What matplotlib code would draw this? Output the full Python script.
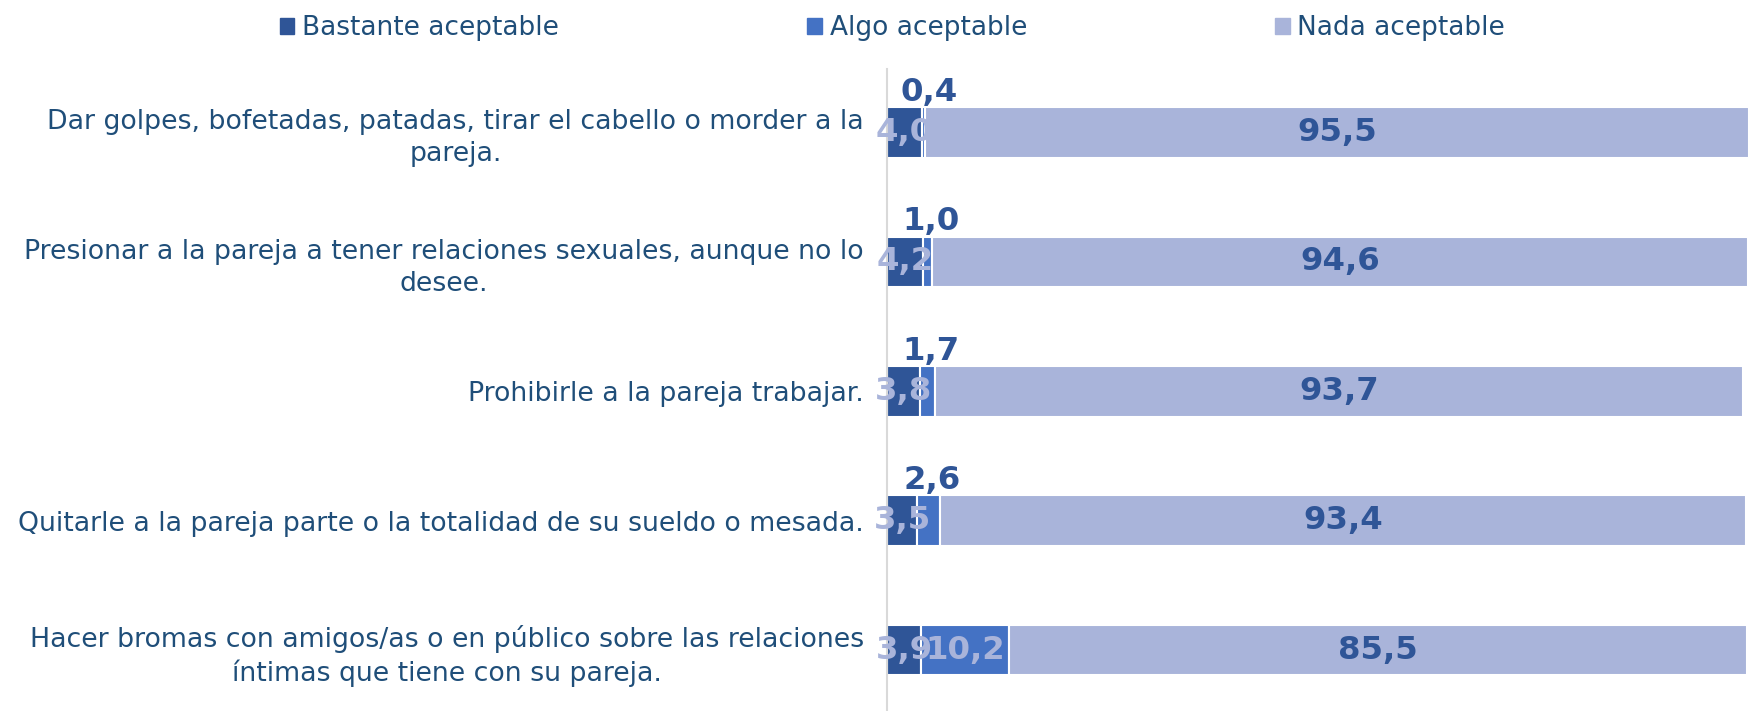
import matplotlib.pyplot as plt
import numpy as np
from matplotlib.patches import Patch

# datos
categorias = [
    'Dar golpes, bofetadas, patadas, tirar el cabello o morder a la\npareja.',
    'Presionar a la pareja a tener relaciones sexuales, aunque no lo\ndesee.',
    'Prohibirle a la pareja trabajar.',
    'Quitarle a la pareja parte o la totalidad de su sueldo o mesada.',
    'Hacer bromas con amigos/as o en público sobre las relaciones\níntimas que tiene con su pareja.',
]
bastante = [4.0, 4.2, 3.8, 3.5, 3.9]
algo = [0.4, 1.0, 1.7, 2.6, 10.2]
nada = [95.5, 94.6, 93.7, 93.4, 85.5]
series = ['Bastante aceptable', 'Algo aceptable', 'Nada aceptable']

c_bast = '#2F5597'
c_algo = '#4472C4'
c_nada = '#A9B4DA'
c_text = '#1F4E79'

def fmt(v):
    return ('%.1f' % v).replace('.', ',')

fig = plt.figure(figsize=(17.5, 7.11), dpi=100)
ax = fig.add_axes([0.507, 0.0, 0.493, 0.903])

y = np.arange(len(categorias))
h = 0.39
b = np.array(bastante)
a = np.array(algo)
n = np.array(nada)

ax.barh(y, b, height=h, color=c_bast, edgecolor='white', linewidth=1.5)
ax.barh(y, a, left=b, height=h, color=c_algo, edgecolor='white', linewidth=1.5)
ax.barh(y, n, left=b + a, height=h, color=c_nada, edgecolor='white', linewidth=1.5)

lab = dict(fontsize=23.3, fontweight='bold', ha='center', va='center')
for i in range(len(categorias)):
    ax.text(b[i] / 2, y[i], fmt(b[i]), color=c_nada, **lab)
    if a[i] > 5:
        ax.text(b[i] + a[i] / 2, y[i], fmt(a[i]), color=c_nada, **lab)
    else:
        ax.text(max(b[i] + a[i] / 2 + 0.4, 4.8), y[i] - 0.31, fmt(a[i]), color=c_bast, **lab)
    ax.text(b[i] + a[i] + n[i] / 2, y[i], fmt(n[i]), color=c_bast, **lab)

ax.set_xlim(0, 100)
ax.set_ylim(4.47, -0.49)
ax.set_yticks(y)
ax.set_yticklabels(categorias, fontsize=19.3, color=c_text, multialignment='center',
                   linespacing=1.3)
ax.tick_params(axis='y', length=0, pad=17)
ax.set_xticks([])
for s in ['top', 'right', 'bottom']:
    ax.spines[s].set_visible(False)
ax.spines['left'].set_color('#D9D9D9')
ax.spines['left'].set_linewidth(1.5)

handles = [Patch(color=c) for c in [c_bast, c_algo, c_nada]]
fig.legend(handles, series, loc='upper center', bbox_to_anchor=(0.51, 1.012), ncol=3,
           frameon=False, fontsize=19, labelcolor=c_text, handlelength=0.55,
           handleheight=0.55, handletextpad=0.3, columnspacing=9.4)

fig.savefig('out.png', dpi=100)
